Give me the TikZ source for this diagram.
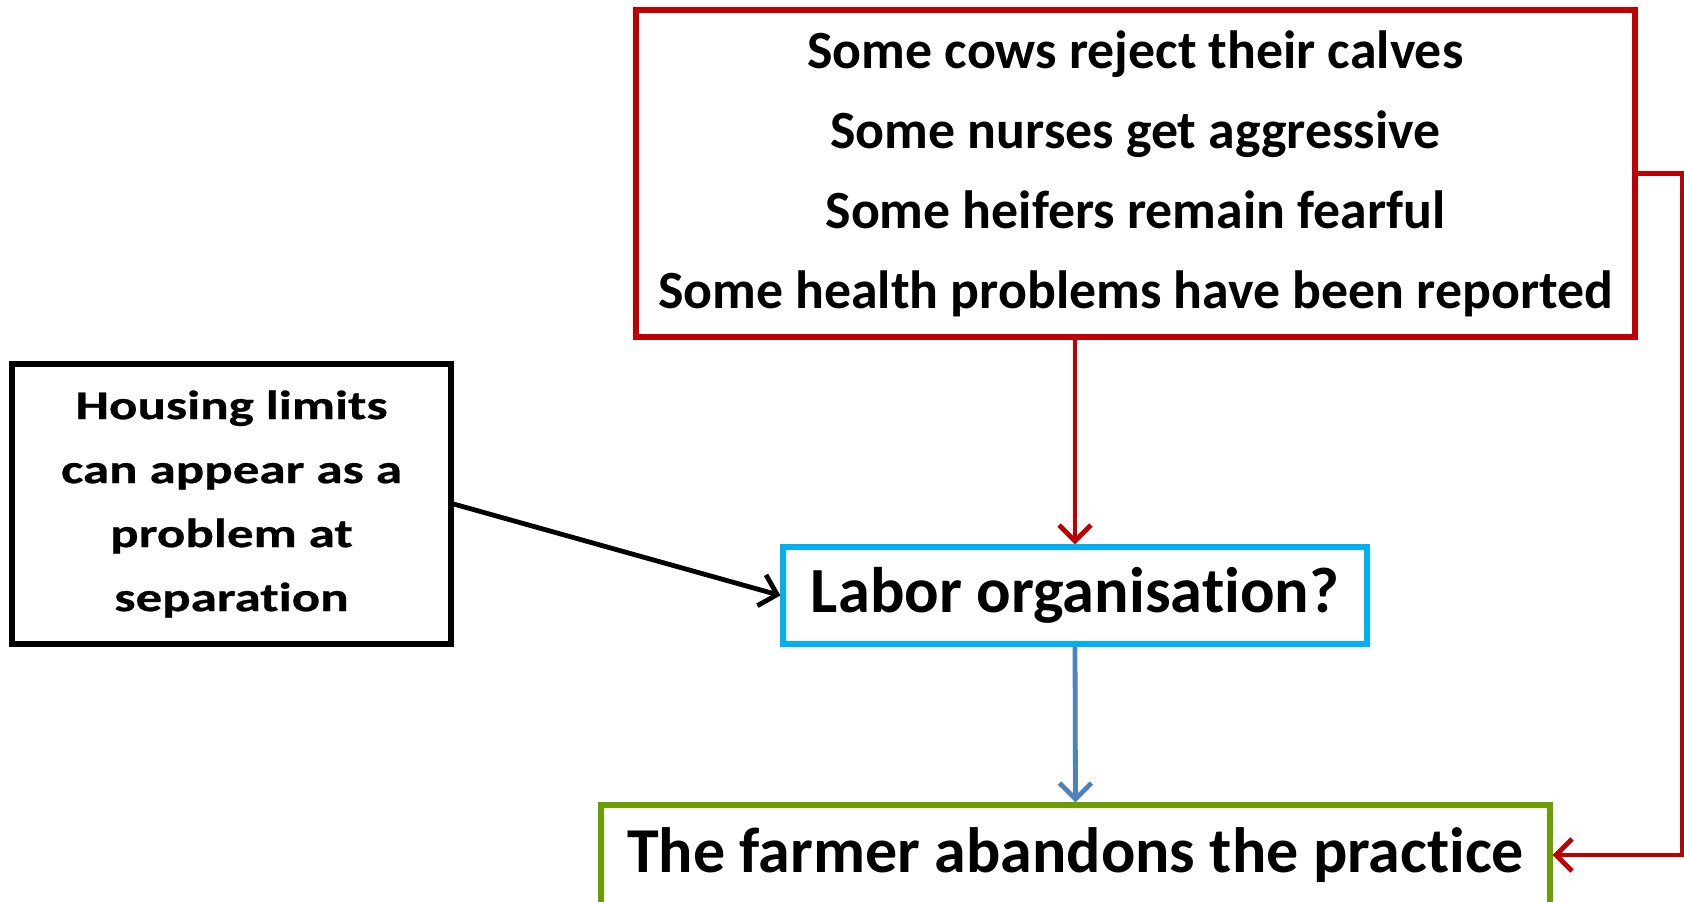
\documentclass[tikz,border=0pt]{standalone}
\usepackage{fontspec}
\setmainfont{Carlito}[Ligatures=NoCommon]
\newfontfamily\widefont{Carlito}[Ligatures=NoCommon,FakeStretch=1.3,FakeBold=0.6]
\usetikzlibrary{arrows.meta}
\definecolor{boxred}{RGB}{192,0,0}
\definecolor{boxcyan}{RGB}{0,176,240}
\definecolor{arrowblue}{RGB}{79,129,189}
\definecolor{boxgreen}{RGB}{107,158,0}
\tikzset{every picture/.style={line width=2.6pt},
  causebox/.style={draw, line width=2.6pt, align=center, inner sep=0pt, font=\bfseries},
  flowarrow/.style={line width=2.4pt, -{Straight Barb[length=8pt,width=16pt]}}}

\begin{document}
\begin{tikzpicture}[x=0.5pt,y=0.5pt,yscale=-1,xscale=1]
\useasboundingbox (0,0) rectangle (1684,901);

% Red box
\node (effects) [causebox, draw=boxred, minimum width=499.5pt, minimum height=163.5pt,
  font=\bfseries\fontsize{26.9}{40}\selectfont] at (1135.5,173.5)
  {Some cows reject their calves\\Some nurses get aggressive\\Some heifers remain fearful\\Some health problems have been reported};
% Black box
\node (housing) [causebox, draw=black, minimum width=219.5pt, minimum height=140pt,
  font=\widefont\bfseries\fontsize{20.4}{32}\selectfont] at (231.5,504)
  {Housing limits\\can appear as a\\problem at\\separation};
% Blue box
\node (labor) [causebox, draw=boxcyan, minimum width=292pt, minimum height=48.5pt,
  font=\bfseries\fontsize{32.2}{38}\selectfont] at (1075,595.5)
  {Labor organisation?};
% Green box
\node (abandon) [causebox, draw=boxgreen, minimum width=474.5pt, minimum height=50pt,
  font=\bfseries\fontsize{32}{38}\selectfont] at (1075.5,855)
  {The farmer abandons the practice};

% Arrows
\draw [flowarrow, boxred] (effects.south -| labor.north) -- (labor.north);
\draw [flowarrow, black] (housing.east) -- (labor.west);
\draw [flowarrow, arrowblue] (labor.south) -- (abandon.north);
\draw [flowarrow, boxred] (effects.east) -- ++(45,0) |- (abandon.east);

\end{tikzpicture}
\end{document}
